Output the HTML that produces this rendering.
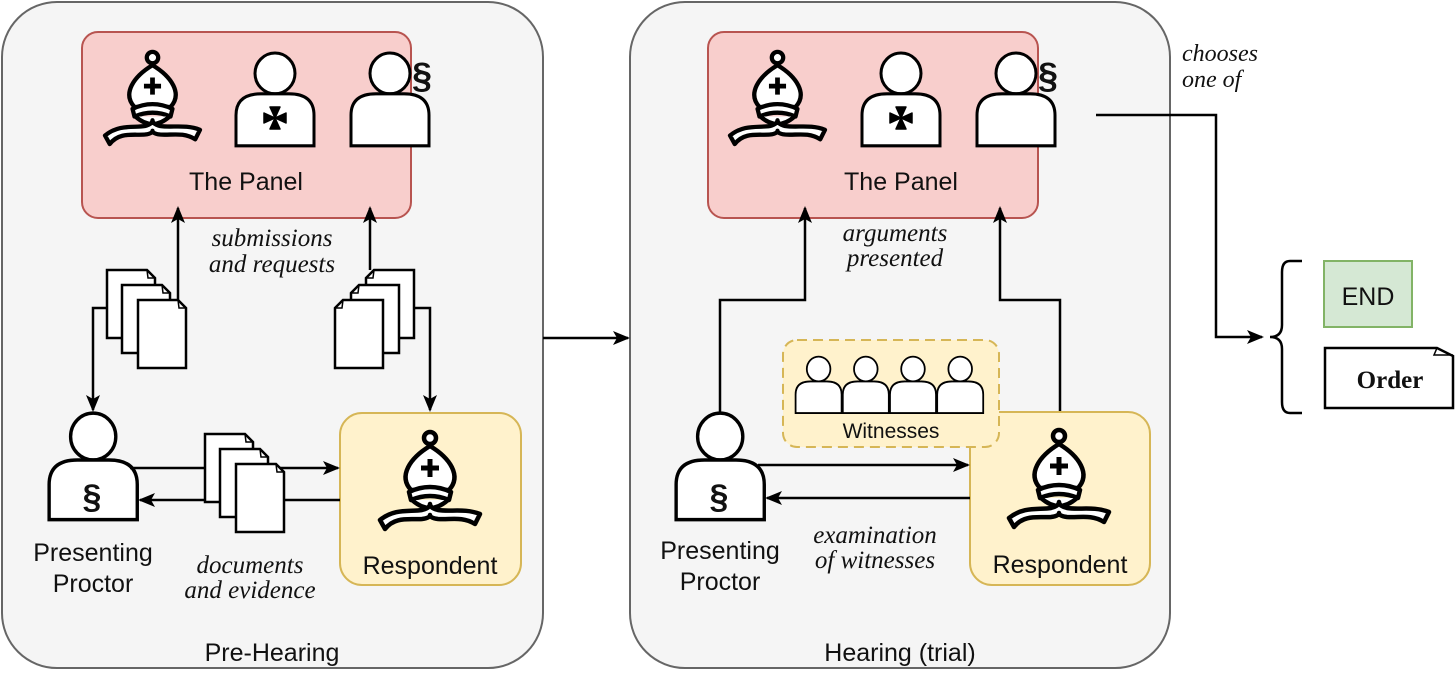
<!DOCTYPE html>
<html><head><meta charset="utf-8"><style>
html,body{margin:0;padding:0;background:#fff;}
svg{display:block;}
.s{font-family:"Liberation Sans",sans-serif;fill:#111;}
.i{font-family:"Liberation Serif",serif;font-style:italic;fill:#111;}
</style></head><body>
<svg width="1456" height="675" viewBox="0 0 1456 675" xmlns="http://www.w3.org/2000/svg">
<defs>
<marker id="a" markerWidth="18" markerHeight="16" refX="15" refY="8" orient="auto" markerUnits="userSpaceOnUse">
<path d="M0,1 L17,8 L0,15 L4,8 Z" fill="#000"/></marker>
<g id="bishop" fill="#fff" stroke="#000" stroke-width="4.5" stroke-linejoin="round">
<circle cx="50" cy="8" r="6"/>
<path d="M31,60 C18,46 30,28 50,16 C70,28 82,46 69,60 Z"/>
<path d="M50,29 V47 M41,38 H59" stroke-width="5"/>
<path d="M29,62 Q50,52 71,62 L69,70 Q50,62 31,70 Z"/>
<path d="M32,70 Q50,86 68,70"/>
<path d="M0,90 C15,78 30,82 42,80 Q50,78 50,74 Q50,78 58,80 C70,82 85,78 100,84 L95,94 C82,86 70,90 58,89 Q50,88 50,85 Q50,88 42,89 C30,90 15,86 5,99 Z"/>
</g>
<g id="person" fill="#fff" stroke="#000" stroke-width="3">
<circle cx="40" cy="21" r="20"/>
<path d="M1,92 L1,62 Q1,41 26,41 L54,41 Q79,41 79,62 L79,92 Z"/>
</g>
<g id="maltese" fill="#000">
<path d="M0,0 L-5,-11 L5,-11 Z M0,0 L-5,11 L5,11 Z M0,0 L-11,-5 L-11,5 Z M0,0 L11,-5 L11,5 Z" stroke="#000" stroke-width="1.5" stroke-linejoin="round"/>
</g>
<g id="doc" fill="#fff" stroke="#000" stroke-width="2.5">
<path d="M0,0 H40 L48,8 V68 H0 Z"/><path d="M40,0 L41,8 H48" fill="none" stroke-width="1.5"/>
</g>
<g id="docs"><use href="#doc" x="0" y="0"/><use href="#doc" x="15" y="15"/><use href="#doc" x="31" y="30"/></g>
</defs>

<rect x="2" y="2" width="541" height="666" rx="55" fill="#f5f5f5" stroke="#666" stroke-width="2"/>
<rect x="630" y="2" width="540" height="666" rx="55" fill="#f5f5f5" stroke="#666" stroke-width="2"/>
<line x1="543" y1="338" x2="628" y2="338" stroke="#000" stroke-width="2.5" marker-end="url(#a)"/>

<!-- LEFT -->
<rect x="82" y="32" width="329" height="186" rx="16" fill="#f8cecc" stroke="#b85450" stroke-width="2"/>
<use href="#bishop" transform="translate(105,50) scale(0.95)"/>
<use href="#person" transform="translate(235,52) scale(1.0,1.02)"/>
<use href="#maltese" transform="translate(275,118)"/>
<use href="#person" transform="translate(350,52) scale(1.0,1.02)"/>
<text x="422" y="88" class="s" font-size="36" font-weight="bold" text-anchor="middle">§</text>
<text x="246" y="190" class="s" font-size="25" text-anchor="middle">The Panel</text>

<path d="M178,300 V208" stroke="#000" stroke-width="2.5" fill="none" marker-end="url(#a)"/>
<path d="M370,270 V208" stroke="#000" stroke-width="2.5" fill="none" marker-end="url(#a)"/>
<path d="M107,308 H93 V410" stroke="#000" stroke-width="2.5" fill="none" marker-end="url(#a)"/>
<path d="M414,308 H430 V410" stroke="#000" stroke-width="2.5" fill="none" marker-end="url(#a)"/>
<use href="#docs" x="107" y="270"/>
<g transform="translate(414,270) scale(-1,1)"><use href="#docs"/></g>
<text x="272" y="246" class="i" font-size="25" text-anchor="middle">submissions</text>
<text x="272" y="272" class="i" font-size="25" text-anchor="middle">and requests</text>

<rect x="340" y="413" width="181" height="172" rx="22" fill="#fff2cc" stroke="#d6b656" stroke-width="2"/>
<use href="#bishop" transform="translate(380,430) scale(1.0)"/>
<text x="430" y="574" class="s" font-size="25" text-anchor="middle">Respondent</text>

<use href="#person" transform="translate(48,412) scale(1.13,1.17)"/>
<text x="92" y="508" class="s" font-size="34" font-weight="bold" text-anchor="middle">§</text>
<text x="93" y="561" class="s" font-size="25" text-anchor="middle">Presenting</text>
<text x="93" y="592" class="s" font-size="25" text-anchor="middle">Proctor</text>

<line x1="130" y1="468" x2="338" y2="468" stroke="#000" stroke-width="2.5" marker-end="url(#a)"/>
<line x1="340" y1="500" x2="140" y2="500" stroke="#000" stroke-width="2.5" marker-end="url(#a)"/>
<use href="#docs" x="205" y="434"/>
<text x="250" y="573" class="i" font-size="25" text-anchor="middle">documents</text>
<text x="250" y="598" class="i" font-size="25" text-anchor="middle">and evidence</text>
<text x="272" y="661" class="s" font-size="25" text-anchor="middle">Pre-Hearing</text>

<!-- RIGHT -->
<rect x="708" y="32" width="330" height="186" rx="16" fill="#f8cecc" stroke="#b85450" stroke-width="2"/>
<use href="#bishop" transform="translate(730,50) scale(0.95)"/>
<use href="#person" transform="translate(861,52) scale(1.0,1.02)"/>
<use href="#maltese" transform="translate(901,118)"/>
<use href="#person" transform="translate(976,52) scale(1.0,1.02)"/>
<text x="1048" y="88" class="s" font-size="36" font-weight="bold" text-anchor="middle">§</text>
<text x="901" y="190" class="s" font-size="25" text-anchor="middle">The Panel</text>
<text x="895" y="241" class="i" font-size="25" text-anchor="middle">arguments</text>
<text x="895" y="266" class="i" font-size="25" text-anchor="middle">presented</text>

<path d="M720,412 V300 H805 V208" stroke="#000" stroke-width="2.5" fill="none" marker-end="url(#a)"/>
<path d="M1060,412 V300 H1000 V208" stroke="#000" stroke-width="2.5" fill="none" marker-end="url(#a)"/>

<rect x="970" y="412" width="180" height="173" rx="22" fill="#fff2cc" stroke="#d6b656" stroke-width="2"/>
<use href="#bishop" transform="translate(1009,428) scale(1.0)"/>
<text x="1060" y="573" class="s" font-size="25" text-anchor="middle">Respondent</text>

<rect x="783" y="340" width="216" height="107" rx="14" fill="#fff2cc" stroke="#d6b656" stroke-width="2" stroke-dasharray="10,6"/>
<g transform="translate(795,356) scale(0.59,0.62)"><use href="#person" x="0"/><use href="#person" x="80"/><use href="#person" x="160"/><use href="#person" x="240"/></g>
<text x="891" y="438" class="s" font-size="21" text-anchor="middle">Witnesses</text>

<use href="#person" transform="translate(675,412) scale(1.13,1.17)"/>
<text x="719" y="508" class="s" font-size="34" font-weight="bold" text-anchor="middle">§</text>
<text x="720" y="559" class="s" font-size="25" text-anchor="middle">Presenting</text>
<text x="720" y="590" class="s" font-size="25" text-anchor="middle">Proctor</text>

<line x1="758" y1="465" x2="968" y2="465" stroke="#000" stroke-width="2.5" marker-end="url(#a)"/>
<line x1="970" y1="498" x2="767" y2="498" stroke="#000" stroke-width="2.5" marker-end="url(#a)"/>
<text x="875" y="543" class="i" font-size="25" text-anchor="middle">examination</text>
<text x="875" y="568" class="i" font-size="25" text-anchor="middle">of witnesses</text>
<text x="900" y="661" class="s" font-size="25" text-anchor="middle">Hearing (trial)</text>

<!-- outcome -->
<text x="1182" y="61" class="i" font-size="24">chooses</text>
<text x="1182" y="87" class="i" font-size="24">one of</text>
<path d="M1096,115 H1216 V337 H1262" stroke="#000" stroke-width="2.5" fill="none" marker-end="url(#a)"/>
<path d="M1302,261 H1290 Q1282,261 1282,272 V325 Q1282,337 1270,337 Q1282,337 1282,349 V402 Q1282,413 1290,413 H1302" stroke="#000" stroke-width="2.5" fill="none"/>
<rect x="1324" y="261" width="88" height="66" fill="#d5e8d4" stroke="#82b366" stroke-width="2"/>
<text x="1368" y="305" class="s" font-size="25" text-anchor="middle">END</text>
<path d="M1325,348 H1437 L1453,356 V408 H1325 Z" fill="#fff" stroke="#000" stroke-width="2.5"/>
<path d="M1437,348 L1434,355 H1453" fill="none" stroke="#000" stroke-width="1.5"/>
<text x="1390" y="388" font-family="Liberation Serif,serif" font-weight="bold" font-size="25" text-anchor="middle" fill="#111">Order</text>
</svg>
</body></html>
